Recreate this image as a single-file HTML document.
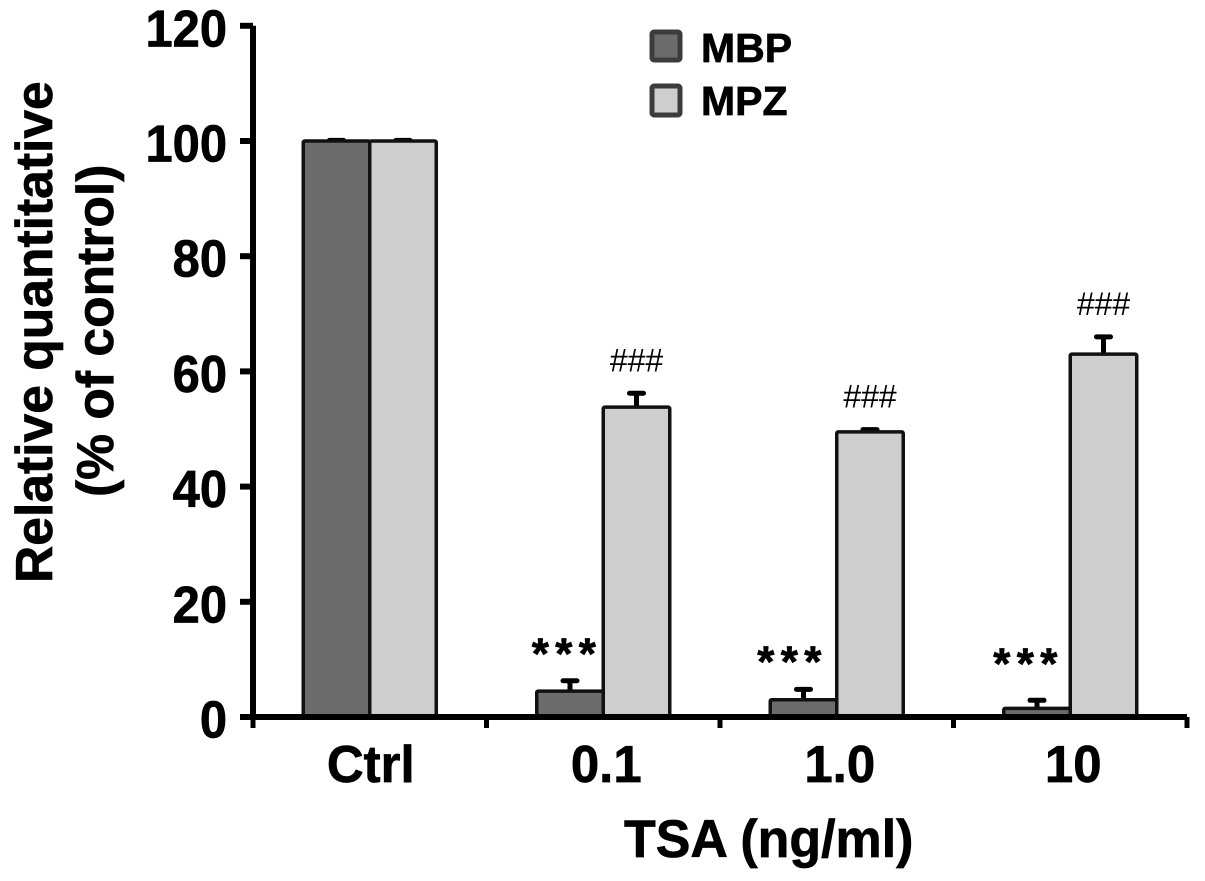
<!DOCTYPE html>
<html>
<head>
<meta charset="utf-8">
<style>
html,body{margin:0;padding:0;background:#fff;}
svg{display:block;}
text{font-family:"Liberation Sans",sans-serif;font-weight:bold;fill:#000;stroke:#000;stroke-width:.7px;}
</style>
</head>
<body>
<svg id="chart" width="1205" height="881" viewBox="0 0 1205 881" xmlns="http://www.w3.org/2000/svg">
<rect width="1205" height="881" fill="#fff"/>
<g id="marks"></g>
<g id="axes"></g>
<text transform="translate(52,583) rotate(-90)" font-size="51.6">Relative quantitative</text>
<text transform="translate(113,497) rotate(-90)" font-size="51.6">(% of control)</text>
<text transform="translate(624,857) scale(.98,1)" font-size="53">TSA (ng/ml)</text>
<g>
<rect x="652" y="32" width="28" height="28" rx="2" fill="#6c6c6c" stroke="#3c3c3c" stroke-width="5"/>
<text x="701" y="62" font-size="41">MBP</text>
<rect x="652" y="86" width="28" height="29" rx="2" fill="#cecece" stroke="#3c3c3c" stroke-width="5"/>
<text x="701" y="115" font-size="41">MPZ</text>
</g>
<script>
var categories = ["Ctrl", "0.1", "1.0", "10"];
var mbpValues = [100, 4.5, 3, 1.5];
var mpzValues = [100, 53.8, 49.5, 63];
var mbpErrors = [0.1, 1.8, 1.8, 1.4];
var mpzErrors = [0.1, 2.4, 0.4, 3];
var yTicks = [0, 20, 40, 60, 80, 100, 120];
var mbpMarks = ["", "***", "***", "***"];
var mpzMarks = ["", "###", "###", "###"];

var NS = "http://www.w3.org/2000/svg";
var marks = document.getElementById("marks");
var axes = document.getElementById("axes");
var axisX0 = 253, groupW = 233.5, barW = 66.5;
var starNudgeX = [0, -3, -11, -8.5];
var starNudgeY = [0, 12, 13, 22];
var labelNudgeX = [1, 3, 3, 3];
function yScale(v) { return 717 - v * 5.76; }
function xGroup(i) { return axisX0 + groupW * i; }
function xCenter(i) { return xGroup(i) + groupW / 2; }
function make(tag, attrs, parent) {
  var el = document.createElementNS(NS, tag);
  for (var k in attrs) el.setAttribute(k, attrs[k]);
  parent.appendChild(el);
  return el;
}
function drawBar(i, value, err, fill, left, name) {
  var x = left ? xCenter(i) - barW : xCenter(i);
  var cx = x + barW / 2;
  var top = yScale(value);
  var errTop = yScale(value + err);
  var stem = make("line", {x1: cx, x2: cx, y1: top, y2: errTop, stroke: "#000", "stroke-width": 5}, marks);
  
  
  var cap = make("line", {x1: cx - 7, x2: cx + 7, y1: errTop, y2: errTop, stroke: "#000", "stroke-width": 5, "stroke-linecap": "round"}, marks);
  
  
  var bar = make("rect", {x: x, y: top, width: barW, height: yScale(0) - top, rx: 1.5, fill: fill, stroke: "#111", "stroke-width": 3.5}, marks);
  
  
}
function drawLabel(txt, x, y, size, sx, anchor, parent) {
  var t = make("text", {transform: "translate(" + x + "," + y + ") scale(" + sx + ",1)", "font-size": size, "text-anchor": anchor}, parent);
  t.textContent = txt;
  return t;
}
categories.forEach(function (c, i) {
  drawBar(i, mbpValues[i], mbpErrors[i], "#6c6c6c", true, "bar-mbp-" + c);
  drawBar(i, mpzValues[i], mpzErrors[i], "#cecece", false, "bar-mpz-" + c);
  if (mbpMarks[i]) {
    var leftCx = xCenter(i) - barW / 2;
    var s = drawLabel(mbpMarks[i], leftCx + starNudgeX[i], yScale(mbpValues[i] + mbpErrors[i]) - starNudgeY[i], 44, 1, "middle", marks);
    
    
    s.setAttribute('letter-spacing', '6.4');
  }
  if (mpzMarks[i]) {
    var rightCx = xCenter(i) + barW / 2;
    var h = drawLabel(mpzMarks[i], rightCx, yScale(mpzValues[i] + mpzErrors[i]) - 22, 32, 1, "middle", marks);
    
    
    h.style.fontWeight = 'normal';
    h.style.stroke = 'none';
  }
  var lab = drawLabel(c, xCenter(i) + labelNudgeX[i], 782, 52, 0.98, "middle", axes);
  
  
});
var yAxis = make("path", {d: "M253 " + yScale(120) + "V" + yScale(0), fill: "none", stroke: "#000", "stroke-width": 6}, axes);


var xAxis = make("line", {x1: 240, x2: xGroup(categories.length), y1: yScale(0), y2: yScale(0), stroke: "#000", "stroke-width": 6}, axes);


yTicks.forEach(function (v) {
  var tk = make("line", {x1: 240, x2: 253, y1: yScale(v), y2: yScale(v), stroke: "#000", "stroke-width": 6}, axes);
  
  
  var lb = drawLabel(String(v), 227, yScale(v) + 20.5, 52, 0.94, "end", axes);
  
  
});
for (var i = 0; i <= categories.length; i++) {
  var xt = make("line", {x1: xGroup(i), x2: xGroup(i), y1: yScale(0), y2: 728, stroke: "#000", "stroke-width": 5}, axes);
  
  
}
</script>
</svg>
</body>
</html>
